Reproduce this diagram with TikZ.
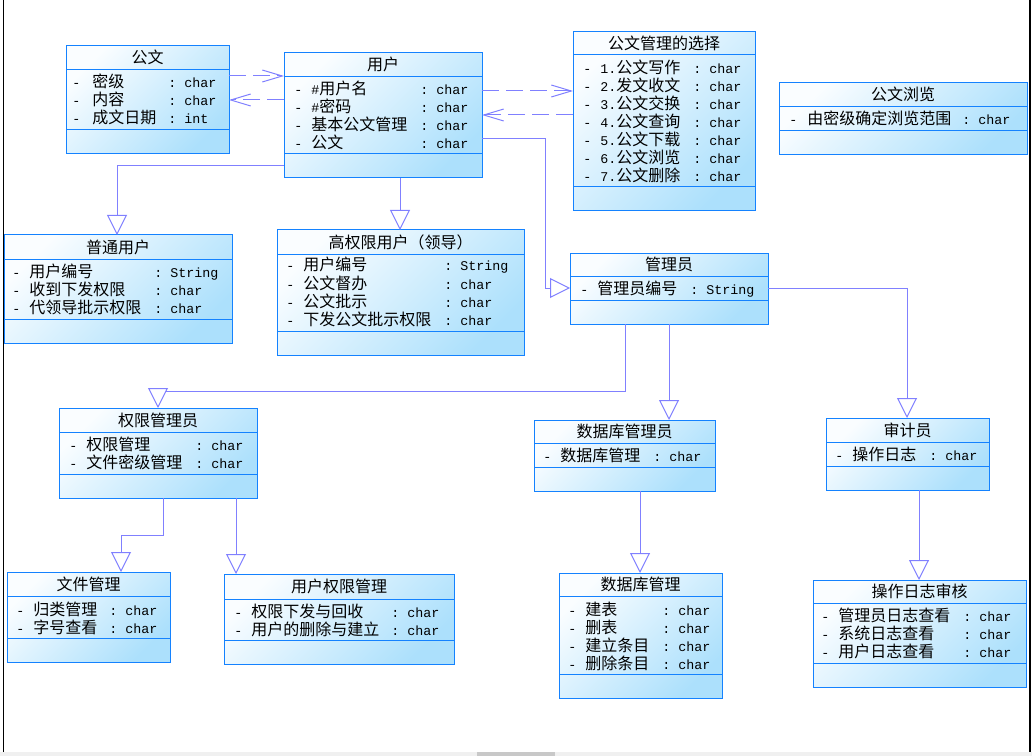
\documentclass[tikz,border=0pt]{standalone}
\usepackage{fontspec}
\usetikzlibrary{arrows.meta}
\newfontfamily\cjkf{Noto Sans CJK SC}
\newfontfamily\monof{Liberation Mono}
\definecolor{boxblue}{RGB}{20,130,255}
\definecolor{conn}{RGB}{128,128,255}
\definecolor{filltop}{RGB}{250,253,255}
\definecolor{fillbot}{RGB}{172,224,252}
\definecolor{barbg}{RGB}{240,240,240}
\definecolor{barthumb}{RGB}{200,200,200}
\newcommand\mn[1]{{\monof\fontsize{10}{12}\selectfont #1}}
% box: name, x1, y1, x2, y2, header line y, attribute line y, title
\newcommand\umlbox[8]{%
  \node[classbox, minimum width={(#4-#2)*0.75}, minimum height={(#5-#3)*0.75}] (#1) at ({(#2+#4)/2},{(#3+#5)/2}) {};
  \draw[boxline] (#1.west |- 0,#6) -- (#1.east |- 0,#6);
  \draw[boxline] (#1.west |- 0,#7) -- (#1.east |- 0,#7);
  \node[ttl] (#1-title) at ({(#2+#4)/2},{(#3+#6)/2}) {#8};
}
% attribute: box, row, y, x dash, x name, name, x type, type
\newcommand\attr[8]{%
  \node[mo] (#1-r#2-d) at ({#4-1},#3) {-};
  \node[cj] (#1-r#2-n) at (#5,#3) {#6};
  \node[mo] (#1-r#2-c) at ({#7-16},#3) {:};
  \node[mo] (#1-r#2-t) at (#7,#3) {#8};
}
\begin{document}
\begin{tikzpicture}[x=0.75pt,y=-0.75pt,
  classbox/.style={draw=boxblue, line width=0.75pt, top color=filltop, bottom color=fillbot, shading angle=45, inner sep=0pt, outer sep=0pt},
  boxline/.style={draw=boxblue, line width=0.75pt},
  ttl/.style={font=\cjkf\fontsize{12}{14}\selectfont, inner sep=0pt, text height=10pt, text depth=1pt},
  cj/.style={ttl, anchor=west},
  mo/.style={font=\monof\fontsize{10}{12}\selectfont, inner sep=0pt, text height=10pt, text depth=1pt, anchor=west},
  gen/.style={draw=conn, line width=0.75pt, -{Triangle[open, length=15pt, width=15pt, fill=white]}},
  dep/.style={draw=conn, line width=0.75pt, dash pattern=on 12.75pt off 5.25pt, -{Straight Barb[length=15pt, width=9pt]}}
]
\useasboundingbox (0,0) rectangle (1032,756);
\fill[white] (0,0) rectangle (1032,756);

% classes
\umlbox{doc}{66}{46}{229}{154}{70}{130}{公文}
\attr{doc}{1}{82}{73}{92}{密级}{184}{char}
\attr{doc}{2}{100}{73}{92}{内容}{184}{char}
\attr{doc}{3}{118}{73}{92}{成文日期}{184}{int}

\umlbox{user}{284}{53}{482}{178}{77}{154}{用户}
\attr{user}{1}{89}{295}{311}{\mn{\#}用户名}{436}{char}
\attr{user}{2}{107}{295}{311}{\mn{\#}密码}{436}{char}
\attr{user}{3}{125}{295}{311}{基本公文管理}{436}{char}
\attr{user}{4}{143}{295}{311}{公文}{436}{char}

\umlbox{sel}{573}{32}{755}{211}{55}{187}{公文管理的选择}
\attr{sel}{1}{68}{584}{600}{\mn{1.}公文写作}{709}{char}
\attr{sel}{2}{86}{584}{600}{\mn{2.}发文收文}{709}{char}
\attr{sel}{3}{104}{584}{600}{\mn{3.}公文交换}{709}{char}
\attr{sel}{4}{122}{584}{600}{\mn{4.}公文查询}{709}{char}
\attr{sel}{5}{140}{584}{600}{\mn{5.}公文下载}{709}{char}
\attr{sel}{6}{158}{584}{600}{\mn{6.}公文浏览}{709}{char}
\attr{sel}{7}{176}{584}{600}{\mn{7.}公文删除}{709}{char}

\umlbox{browse}{779}{83}{1027}{155}{107}{131}{公文浏览}
\attr{browse}{1}{119}{790}{807}{由密级确定浏览范围}{978}{char}

\umlbox{putong}{4}{235}{232}{343}{259}{319}{普通用户}
\attr{putong}{1}{271}{13}{29}{用户编号}{170}{String}
\attr{putong}{2}{289}{13}{29}{收到下发权限}{170}{char}
\attr{putong}{3}{307}{13}{29}{代领导批示权限}{170}{char}

\umlbox{gaoquan}{277}{230}{524}{355}{254}{331}{高权限用户（领导）}
\attr{gaoquan}{1}{265}{287}{303}{用户编号}{460}{String}
\attr{gaoquan}{2}{283}{287}{303}{公文督办}{460}{char}
\attr{gaoquan}{3}{301}{287}{303}{公文批示}{460}{char}
\attr{gaoquan}{4}{319}{287}{303}{下发公文批示权限}{460}{char}

\umlbox{admin}{570}{253}{768}{324}{276}{300}{管理员}
\attr{admin}{1}{288}{581}{597}{管理员编号}{706}{String}

\umlbox{qxadmin}{59}{408}{257}{498}{432}{474}{权限管理员}
\attr{qxadmin}{1}{444}{70}{86}{权限管理}{211}{char}
\attr{qxadmin}{2}{462}{70}{86}{文件密级管理}{211}{char}

\umlbox{dbadmin}{534}{420}{715}{491}{443}{467}{数据库管理员}
\attr{dbadmin}{1}{455}{544}{560}{数据库管理}{669}{char}

\umlbox{auditor}{826}{418}{989}{490}{442}{466}{审计员}
\attr{auditor}{1}{454}{836}{852}{操作日志}{945}{char}

\umlbox{filemgmt}{7}{572}{170}{662}{596}{638}{文件管理}
\attr{filemgmt}{1}{609}{17}{33}{归类管理}{125}{char}
\attr{filemgmt}{2}{627}{17}{33}{字号查看}{125}{char}

\umlbox{userperm}{224}{574}{454}{664}{599}{640}{用户权限管理}
\attr{userperm}{1}{611}{235}{251}{权限下发与回收}{407}{char}
\attr{userperm}{2}{629}{235}{251}{用户的删除与建立}{407}{char}

\umlbox{dbmgmt}{559}{573}{722}{698}{596}{674}{数据库管理}
\attr{dbmgmt}{1}{609}{569}{585}{建表}{678}{char}
\attr{dbmgmt}{2}{627}{569}{585}{删表}{678}{char}
\attr{dbmgmt}{3}{645}{569}{585}{建立条目}{678}{char}
\attr{dbmgmt}{4}{663}{569}{585}{删除条目}{678}{char}

\umlbox{logaudit}{813}{580}{1026}{687}{603}{663}{操作日志审核}
\attr{logaudit}{1}{615}{822}{838}{管理员日志查看}{979}{char}
\attr{logaudit}{2}{633}{822}{838}{系统日志查看}{979}{char}
\attr{logaudit}{3}{651}{822}{838}{用户日志查看}{979}{char}

% dependencies (dashed)
\draw[dep] (doc.east |- 0,76) -- (user.west |- 0,76);
\draw[dep] (user.west |- 0,100) -- (doc.east |- 0,100);
\draw[dep] (user.east |- 0,91) -- (sel.west |- 0,91);
\draw[dep] (sel.west |- 0,115) -- (user.east |- 0,115);

% generalizations
\draw[gen] (user.west |- 0,166) -| (117,0 |- putong.north);
\draw[gen] (400,0 |- user.south) -- (400,0 |- gaoquan.north);
\draw[gen] (user.east |- 0,139) -- (545,139) -- (545,288) -- (admin.west |- 0,288);
\draw[gen] (625,0 |- admin.south) -- (625,391) -- (158,391) -- (158,0 |- qxadmin.north);
\draw[gen] (669,0 |- admin.south) -- (669,0 |- dbadmin.north);
\draw[gen] (admin.east |- 0,288) -| (907,0 |- auditor.north);
\draw[gen] (163,0 |- qxadmin.south) -- (163,535) -- (121,535) -- (121,0 |- filemgmt.north);
\draw[gen] (236,0 |- qxadmin.south) -- (236,0 |- userperm.north);
\draw[gen] (640,0 |- dbadmin.south) -- (640,0 |- dbmgmt.north);
\draw[gen] (919,0 |- auditor.south) -- (919,0 |- logaudit.north);

% window frame
\draw[black, line width=0.75pt] (3,0) -- (3,752);
\draw[black, line width=1.5pt] (1029.5,0) -- (1029.5,752);
\fill[barbg] (0,752) rectangle (1032,756);
\fill[barthumb] (477,752) rectangle (555,756);
\end{tikzpicture}
\end{document}
